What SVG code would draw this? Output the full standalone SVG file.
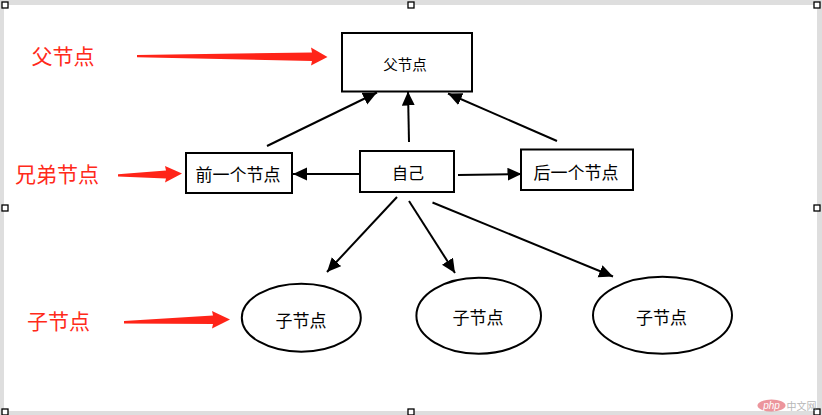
<svg xmlns="http://www.w3.org/2000/svg" width="822" height="415" viewBox="0 0 822 415">
<defs>
<style>
.frame{fill:#dedede}
.handle{fill:#fff;stroke:#000;stroke-width:1.3}
.box{fill:#fff;stroke:#000;stroke-width:2}
.t{font-family:"Noto Sans CJK SC","Noto Sans",sans-serif;fill:#000;text-anchor:middle;dominant-baseline:central}
.r{font-family:"Noto Sans CJK SC","Noto Sans",sans-serif;fill:#ff2a1a;text-anchor:middle;dominant-baseline:central;font-size:21px}
.red{fill:#ff2418}
.c{stroke:#000;stroke-width:2;fill:none;marker-end:url(#ah)}
</style>
<marker id="ah" markerUnits="userSpaceOnUse" markerWidth="16" markerHeight="14" refX="14" refY="6.5" orient="auto">
<path d="M0,0 L14,6.5 L0,13 z" fill="#000"/>
</marker>
</defs>
<rect width="822" height="415" class="frame"/>
<rect x="4" y="5" width="813" height="406" fill="#fff"/>
<g id="handles">
<rect class="handle" x="2" y="2" width="6" height="6"/>
<rect class="handle" x="408" y="2" width="6" height="6"/>
<rect class="handle" x="814" y="2" width="6" height="6"/>
<rect class="handle" x="2" y="205" width="6" height="6"/>
<rect class="handle" x="814" y="205" width="6" height="6"/>
<rect class="handle" x="2" y="409" width="6" height="6"/>
<rect class="handle" x="408" y="409" width="6" height="6"/>
<rect class="handle" x="814" y="409" width="6" height="6"/>
</g>
<g id="labels">
<text class="r" x="63" y="54.5">父节点</text>
<path class="red" d="M137,55 L312,52.5 L311,47.5 L327.5,57 L311,65.5 L312,61 L137,57.2 z"/>
<text class="r" x="57" y="173">兄弟节点</text>
<path class="red" d="M118,174.3 L166,170.5 L165,166 L182,173.5 L165,182.5 L166,178.5 L118,176.5 z"/>
<text class="r" x="58.5" y="320">子节点</text>
<path class="red" d="M124,321 L213,315.5 L212,311 L230,319.5 L212,328.5 L213,324 L124,323.4 z"/>
</g>
<g id="connectors">
<line class="c" x1="267" y1="146" x2="377" y2="92.5"/>
<line class="c" x1="409" y1="142" x2="408" y2="91.5"/>
<line class="c" x1="557" y1="141" x2="448" y2="93.5"/>
<line class="c" x1="360" y1="174" x2="293" y2="174"/>
<line class="c" x1="458" y1="175" x2="521.5" y2="174"/>
<line class="c" x1="397" y1="197" x2="327" y2="272"/>
<line class="c" x1="409" y1="201" x2="455" y2="273"/>
<line class="c" x1="432.5" y1="202.5" x2="613" y2="276.5"/>
</g>
<g id="parent">
<rect class="box" x="342" y="33" width="130" height="58.5"/>
<text class="t" x="405" y="63.5" font-size="14.5">父节点</text>
</g>
<g id="self">
<rect class="box" x="360" y="151" width="94" height="41"/>
<text class="t" x="408" y="172" font-size="16">自己</text>
</g>
<g id="prev">
<rect class="box" x="186" y="153" width="106" height="40"/>
<text class="t" x="238" y="173" font-size="17">前一个节点</text>
</g>
<g id="next">
<rect class="box" x="521" y="149.5" width="112" height="40.5"/>
<text class="t" x="576" y="171.5" font-size="17">后一个节点</text>
</g>
<g id="child1">
<ellipse class="box" cx="301.3" cy="317.7" rx="59.5" ry="34"/>
<text class="t" x="301" y="319" font-size="17">子节点</text>
</g>
<g id="child2">
<ellipse class="box" cx="478.7" cy="315.7" rx="62.3" ry="38"/>
<text class="t" x="478" y="316.5" font-size="17">子节点</text>
</g>
<g id="child3">
<ellipse class="box" cx="662.5" cy="315.3" rx="69.5" ry="38.5"/>
<text class="t" x="661.5" y="316.5" font-size="17">子节点</text>
</g>
<g id="watermark" opacity="0.6">
<ellipse cx="771.5" cy="405.5" rx="14" ry="6" fill="#e0505c"/>
<text x="771.5" y="409" font-family="'Liberation Sans',sans-serif" font-size="10" font-style="italic" fill="#fff" text-anchor="middle">php</text>
<text x="801.5" y="405.5" font-family="'Noto Sans CJK SC',sans-serif" font-size="10" fill="#888" text-anchor="middle" dominant-baseline="central">中文网</text>
</g>
</svg>
